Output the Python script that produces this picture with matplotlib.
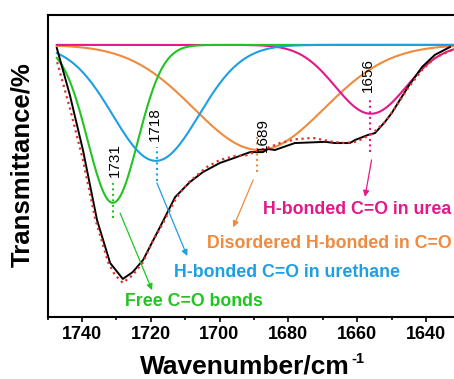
import numpy as np
import matplotlib
matplotlib.use("Agg")
import matplotlib.pyplot as plt
from matplotlib.ticker import MultipleLocator, NullLocator

wavenumber = [1747.3, 1743.5, 1739.7, 1735.6, 1731.8, 1728.1, 1725.2, 1722.2,
              1716.7, 1712.9, 1708.6, 1704.8, 1699.9, 1694.9, 1691.1, 1687.4,
              1685.9, 1683.9, 1678.1, 1669.3, 1666.4, 1662.1, 1660.6, 1656.8,
              1654.8, 1651.9, 1649.9, 1645.2, 1641.1, 1637.4, 1633.0]
transmittance = [89.1, 73.5, 55.3, 32.1, 17.9, 12.6, 14.9, 18.9,
                 31.1, 39.7, 44.7, 48.0, 51.0, 53.0, 54.6, 54.6,
                 55.6, 55.3, 57.6, 58.0, 57.6, 57.6, 58.6, 60.3,
                 60.9, 64.6, 67.6, 76.2, 82.8, 86.8, 89.4]

# cumulative fit (red dotted envelope)
fit_wavenumber = [1747.2, 1743.5, 1739.7, 1736.2, 1732.4, 1730.4, 1728.1, 1725.2,
                  1722.2, 1719.6, 1716.7, 1712.9, 1711.5, 1708.6, 1703.6, 1699.9,
                  1695.5, 1692.0, 1689.1, 1685.3, 1682.4, 1677.5, 1672.8, 1667.0,
                  1663.5, 1660.6, 1659.2, 1655.7, 1651.9, 1649.9, 1645.2, 1641.1,
                  1637.4, 1632.4]
fit_transmittance = [84.4, 69.2, 52.0, 32.8, 18.2, 13.9, 11.3, 13.9,
                     18.2, 24.8, 30.5, 38.7, 41.1, 45.0, 49.7, 52.0,
                     53.3, 53.6, 55.0, 56.3, 57.6, 58.9, 59.3, 58.0,
                     57.6, 58.0, 58.6, 60.6, 64.6, 67.6, 75.8, 81.8,
                     85.8, 88.4]

# fitted gaussian components
baseline = 90.1
peak_centers = [1731.0, 1718.5, 1688.5, 1656.0]
peak_depths = [52.3, 38.4, 34.8, 22.8]
peak_sigmas = [7.3, 12.5, 18.9, 10.3]
peak_labels = ["1731", "1718", "1689", "1656"]
band_names = ["Free C=O bonds", "H-bonded C=O in urethane",
              "Disordered H-bonded in C=O", "H-bonded C=O in urea"]

colours = ["#22C422", "#1E9FE3", "#EF8A3E", "#E3198A"]

plt.rcParams["font.family"] = ["Liberation Sans", "DejaVu Sans"]

W, H = 454, 379
fig = plt.figure(figsize=(W / 100, H / 100), dpi=100)
# axes box in pixels: x 47.5 -> 477.5 (runs past the right edge), y 15 -> 317
ax = fig.add_axes([47.5 / W, (H - 317) / H, 430 / W, 302 / H])
ax.set_xlim(1750, 1625)
ax.set_ylim(0, 100)

x = np.linspace(1747.3, 1626, 600)
components = []
for c, d, s in zip(peak_centers, peak_depths, peak_sigmas):
    components.append(d * np.exp(-(x - c) ** 2 / (2 * s ** 2)))

# draw order: orange, pink, green, blue
for i in [2, 3, 0, 1]:
    ax.plot(x, baseline - components[i], color=colours[i], lw=1.5)

ax.plot(wavenumber, transmittance, color="black", lw=1.4)
ax.plot(fit_wavenumber, fit_transmittance, color="#E0302A", lw=1.6, ls=":")

# peak markers: dotted vertical line + rotated wavenumber
marker_lines = [(1731.0, 32.8, 44.4), (1718.3, 45.0, 56.3),
                (1689.1, 48.0, 59.6), (1656.3, 54.6, 72.8)]
label_pos = [(1730.4, 52.0), (1718.75, 63.9), (1687.35, 60.1), (1656.8, 80.1)]
for i in range(4):
    xm, y0, y1 = marker_lines[i]
    ax.plot([xm, xm], [y0, y1], color=colours[i], lw=1.5, ls=":")
    ax.text(label_pos[i][0], label_pos[i][1], peak_labels[i], rotation=90,
            ha="center", va="center", fontsize=11, color="black")

# arrows to band names
arrows = [((1728.9, 34.4), (1719.6, 8.9)),
          ((1718.2, 44.4), (1709.4, 20.2)),
          ((1690.2, 45.4), (1696.0, 29.7)),
          ((1655.8, 52.0), (1657.7, 39.8))]
for i, (start, end) in enumerate(arrows):
    ax.annotate("", xy=end, xytext=start,
                arrowprops=dict(arrowstyle="-|>", color=colours[i], lw=0.9,
                                mutation_scale=9, shrinkA=0, shrinkB=0))

name_pos = [(1727.5, 3.5), (1713.2, 13.25), (1703.6, 22.85), (1687.35, 34.1)]
for i in range(4):
    ax.text(name_pos[i][0], name_pos[i][1], band_names[i], color=colours[i],
            fontsize=12.8, fontweight="bold", ha="left", va="baseline")

ax.xaxis.set_major_locator(MultipleLocator(20))
ax.xaxis.set_minor_locator(MultipleLocator(10))
ax.yaxis.set_major_locator(NullLocator())
ax.tick_params(axis="x", which="major", direction="out", length=3.5, width=1.2,
               labelsize=13, pad=3)
ax.tick_params(axis="x", which="minor", direction="out", length=2.5, width=1.2)
for lbl in ax.get_xticklabels():
    lbl.set_fontweight("bold")
for sp in ax.spines.values():
    sp.set_linewidth(1.5)

# axis titles (superscript drawn as its own text so it keeps a plain hyphen)
fig.text(140 / W, 1 - 373 / H, "Wavenumber/cm", ha="left", va="baseline",
         fontsize=19, fontweight="bold")
fig.text(351 / W, 1 - 363 / H, "-1", ha="left", va="baseline",
         fontsize=10.5, fontweight="bold")
fig.text(22 / W, 1 - 165 / H, "Transmittance/%", rotation=90, ha="center",
         va="center", fontsize=18.5, fontweight="bold")

fig.savefig("out.png", dpi=100)
